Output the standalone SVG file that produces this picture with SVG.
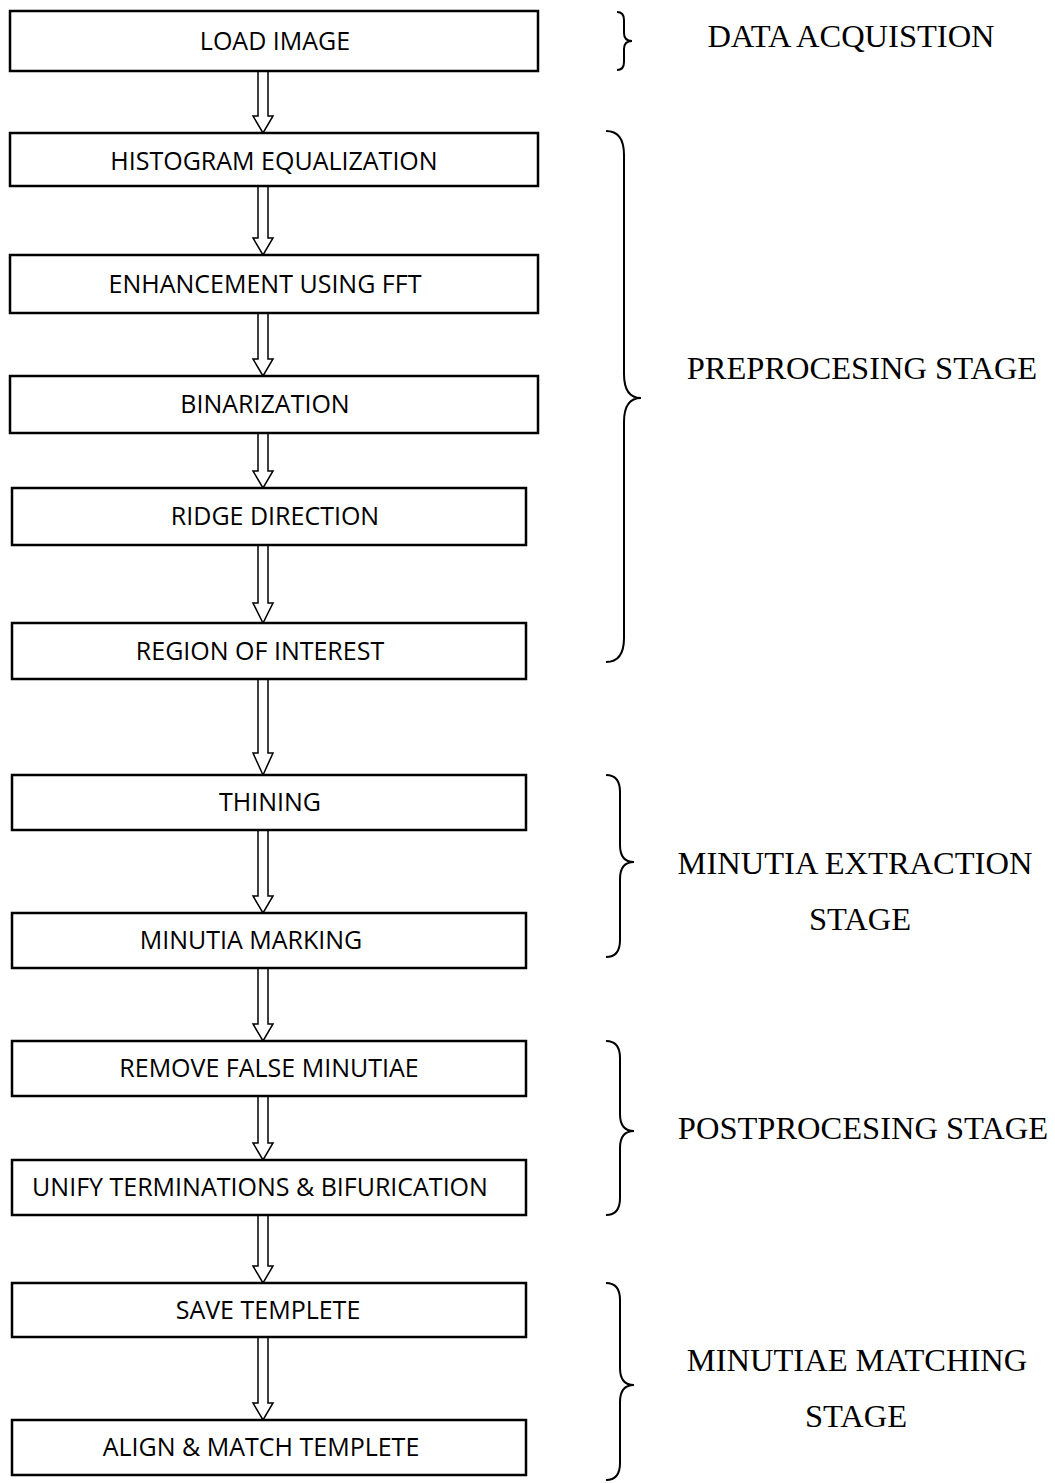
<svg xmlns="http://www.w3.org/2000/svg" width="1055" height="1483" viewBox="0 0 1055 1483">
<style>
.box{fill:#fff;stroke:#000;stroke-width:2.5}
.t{font-family:"Open Sans","Liberation Sans",sans-serif;font-size:25px;fill:#000;text-anchor:middle}
.lbl{font-family:"Liberation Serif","Times New Roman",serif;font-size:32.5px;fill:#000;text-anchor:middle}
.arr{fill:#fff;stroke:#000;stroke-width:1.5;stroke-linejoin:miter}
.br{fill:none;stroke:#000;stroke-width:2}
</style>
<rect width="1055" height="1483" fill="#fff"/>
<g id="connectors">
<path class="arr" d="M258,71 V116 H253 L263,133 L273,116 H268 V71 Z"/>
<path class="arr" d="M258,186 V238 H253 L263,255 L273,238 H268 V186 Z"/>
<path class="arr" d="M258,313 V359 H253 L263,376 L273,359 H268 V313 Z"/>
<path class="arr" d="M258,433 V471 H253 L263,488 L273,471 H268 V433 Z"/>
<path class="arr" d="M258,545 V603 H253 L263,623 L273,603 H268 V545 Z"/>
<path class="arr" d="M258,679 V753 H253 L263,775 L273,753 H268 V679 Z"/>
<path class="arr" d="M258,830 V896 H253 L263,913 L273,896 H268 V830 Z"/>
<path class="arr" d="M258,968 V1024 H253 L263,1041 L273,1024 H268 V968 Z"/>
<path class="arr" d="M258,1096 V1143 H253 L263,1160 L273,1143 H268 V1096 Z"/>
<path class="arr" d="M258,1215 V1266 H253 L263,1283 L273,1266 H268 V1215 Z"/>
<path class="arr" d="M258,1337 V1403 H253 L263,1420 L273,1403 H268 V1337 Z"/>
</g>
<g id="n1"><rect class="box" x="10" y="11" width="528" height="60"/><text class="t" x="275" y="50">LOAD IMAGE</text></g>
<g id="n2"><rect class="box" x="10" y="133" width="528" height="53"/><text class="t" x="274" y="170">HISTOGRAM EQUALIZATION</text></g>
<g id="n3"><rect class="box" x="10" y="255" width="528" height="58"/><text class="t" x="265" y="293">ENHANCEMENT USING FFT</text></g>
<g id="n4"><rect class="box" x="10" y="376" width="528" height="57"/><text class="t" x="265" y="413">BINARIZATION</text></g>
<g id="n5"><rect class="box" x="12" y="488" width="514" height="57"/><text class="t" x="275" y="525">RIDGE DIRECTION</text></g>
<g id="n6"><rect class="box" x="12" y="623" width="514" height="56"/><text class="t" x="260" y="660">REGION OF INTEREST</text></g>
<g id="n7"><rect class="box" x="12" y="775" width="514" height="55"/><text class="t" x="270" y="811">THINING</text></g>
<g id="n8"><rect class="box" x="12" y="913" width="514" height="55"/><text class="t" x="251" y="949">MINUTIA MARKING</text></g>
<g id="n9"><rect class="box" x="12" y="1041" width="514" height="55"/><text class="t" x="269" y="1077">REMOVE FALSE MINUTIAE</text></g>
<g id="n10"><rect class="box" x="12" y="1160" width="514" height="55"/><text class="t" x="260" y="1196">UNIFY TERMINATIONS &amp; BIFURICATION</text></g>
<g id="n11"><rect class="box" x="12" y="1283" width="514" height="54"/><text class="t" x="268" y="1319">SAVE TEMPLETE</text></g>
<g id="n12"><rect class="box" x="12" y="1420" width="514" height="55"/><text class="t" x="261" y="1456">ALIGN &amp; MATCH TEMPLETE</text></g>
<g id="stages">
<path class="br" d="M617,12 Q624,12 624,20 V33 Q624,41 632,41 Q624,41 624,49 V62 Q624,70 617,70"/>
<text class="lbl" x="851" y="47">DATA ACQUISTION</text>
<path class="br" d="M606,131 Q624,131 624,155 V374 Q624,398 641,398 Q624,398 624,422 V638 Q624,662 606,662"/>
<text class="lbl" x="862" y="379">PREPROCESING STAGE</text>
<path class="br" d="M606,775 Q620,775 620,792 V845 Q620,862 634,862 Q620,862 620,879 V940 Q620,957 606,957"/>
<text class="lbl" x="855" y="874">MINUTIA EXTRACTION</text>
<text class="lbl" x="860" y="930">STAGE</text>
<path class="br" d="M606,1041 Q620,1041 620,1058 V1114 Q620,1131 634,1131 Q620,1131 620,1148 V1198 Q620,1215 606,1215"/>
<text class="lbl" x="863" y="1139">POSTPROCESING STAGE</text>
<path class="br" d="M606,1283 Q620,1283 620,1300 V1368 Q620,1385 634,1385 Q620,1385 620,1402 V1463 Q620,1480 606,1480"/>
<text class="lbl" x="857" y="1371">MINUTIAE MATCHING</text>
<text class="lbl" x="856" y="1427">STAGE</text>
</g>
</svg>
